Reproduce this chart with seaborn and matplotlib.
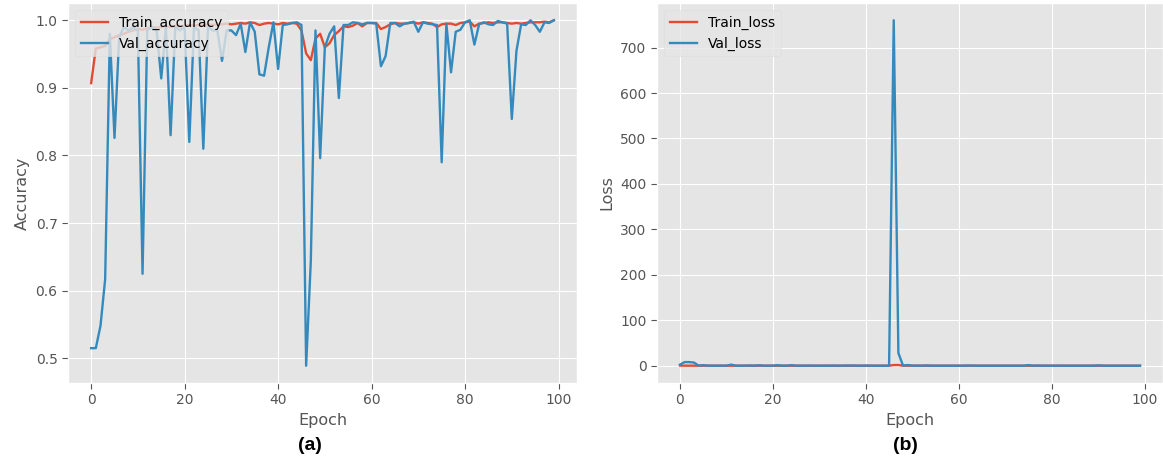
import numpy as np
import pandas as pd
import matplotlib
matplotlib.use("Agg")
import matplotlib.pyplot as plt
import seaborn as sns

plt.style.use("ggplot")

epochs = list(range(100))

train_acc = [0.907, 0.958, 0.960, 0.962, 0.972, 0.975, 0.978, 0.980, 0.983, 0.985,
             0.987, 0.986, 0.988, 0.990, 0.989, 0.990, 0.991, 0.990, 0.992, 0.991,
             0.992, 0.993, 0.992, 0.993, 0.992, 0.994, 0.993, 0.994, 0.994, 0.995,
             0.994, 0.995, 0.996, 0.995, 0.997, 0.996, 0.993, 0.995, 0.996, 0.995,
             0.994, 0.996, 0.995, 0.996, 0.995, 0.985, 0.951, 0.941, 0.973, 0.980,
             0.960, 0.966, 0.978, 0.984, 0.991, 0.990, 0.992, 0.996, 0.991, 0.996,
             0.996, 0.996, 0.987, 0.990, 0.994, 0.996, 0.995, 0.995, 0.996, 0.997,
             0.995, 0.997, 0.996, 0.995, 0.990, 0.994, 0.995, 0.995, 0.993, 0.996,
             0.997, 0.998, 0.991, 0.995, 0.996, 0.997, 0.996, 0.997, 0.997, 0.996,
             0.995, 0.996, 0.995, 0.996, 0.997, 0.997, 0.997, 0.998, 0.997, 1.000]

val_acc = [0.515, 0.515, 0.548, 0.617, 0.980, 0.826, 0.975, 0.990, 0.985, 0.990,
           0.985, 0.625, 0.985, 0.990, 0.985, 0.914, 0.990, 0.830, 0.990, 0.985,
           0.990, 0.820, 0.990, 0.985, 0.810, 0.990, 0.985, 0.985, 0.940, 0.985,
           0.985, 0.978, 0.995, 0.953, 0.997, 0.983, 0.920, 0.918, 0.960, 0.997,
           0.928, 0.993, 0.994, 0.996, 0.997, 0.993, 0.489, 0.644, 0.985, 0.796,
           0.960, 0.980, 0.991, 0.885, 0.993, 0.993, 0.997, 0.996, 0.994, 0.996,
           0.996, 0.995, 0.932, 0.947, 0.996, 0.996, 0.991, 0.995, 0.996, 0.998,
           0.983, 0.997, 0.995, 0.994, 0.993, 0.790, 0.995, 0.923, 0.983, 0.986,
           0.997, 1.000, 0.964, 0.994, 0.997, 0.994, 0.993, 0.999, 0.997, 0.995,
           0.854, 0.955, 0.994, 0.993, 1.000, 0.993, 0.983, 0.997, 0.996, 1.000]

train_loss = [0.30, 0.15, 0.13, 0.12, 0.10, 0.09, 0.08, 0.07, 0.06, 0.06,
              0.05, 0.05, 0.04, 0.04, 0.04, 0.04, 0.03, 0.04, 0.03, 0.03,
              0.03, 0.03, 0.03, 0.03, 0.03, 0.02, 0.03, 0.02, 0.02, 0.02,
              0.02, 0.02, 0.02, 0.02, 0.01, 0.02, 0.03, 0.02, 0.02, 0.02,
              0.02, 0.02, 0.02, 0.02, 0.02, 0.05, 1.50, 1.60, 0.10, 0.08,
              0.12, 0.10, 0.07, 0.05, 0.03, 0.03, 0.03, 0.02, 0.03, 0.02,
              0.02, 0.02, 0.04, 0.03, 0.02, 0.02, 0.02, 0.02, 0.02, 0.01,
              0.02, 0.01, 0.02, 0.02, 0.03, 0.02, 0.02, 0.02, 0.02, 0.01,
              0.01, 0.01, 0.03, 0.02, 0.01, 0.01, 0.01, 0.01, 0.01, 0.01,
              0.02, 0.01, 0.02, 0.01, 0.01, 0.01, 0.01, 0.01, 0.01, 0.01]

val_loss = [2.5, 8.0, 8.0, 7.0, 0.3, 1.2, 0.2, 0.1, 0.1, 0.1,
            0.1, 2.5, 0.1, 0.1, 0.1, 0.5, 0.1, 1.0, 0.1, 0.1,
            0.1, 1.2, 0.1, 0.1, 1.3, 0.1, 0.1, 0.1, 0.3, 0.1,
            0.1, 0.1, 0.05, 0.3, 0.05, 0.1, 0.4, 0.4, 0.2, 0.05,
            0.4, 0.05, 0.05, 0.05, 0.05, 0.05, 760.0, 28.0, 0.3, 1.5,
            0.2, 0.1, 0.05, 0.6, 0.05, 0.05, 0.05, 0.05, 0.05, 0.05,
            0.05, 0.05, 0.4, 0.3, 0.05, 0.05, 0.05, 0.05, 0.05, 0.03,
            0.1, 0.03, 0.05, 0.05, 0.05, 1.4, 0.05, 0.4, 0.1, 0.1,
            0.03, 0.02, 0.2, 0.05, 0.03, 0.05, 0.05, 0.02, 0.03, 0.05,
            0.8, 0.2, 0.05, 0.05, 0.02, 0.05, 0.1, 0.03, 0.03, 0.02]

acc_df = pd.DataFrame({"Epoch": epochs * 2,
                       "value": train_acc + val_acc,
                       "series": ["Train_accuracy"] * 100 + ["Val_accuracy"] * 100})
loss_df = pd.DataFrame({"Epoch": epochs * 2,
                        "value": train_loss + val_loss,
                        "series": ["Train_loss"] * 100 + ["Val_loss"] * 100})

fig = plt.figure(figsize=(11.63, 4.59), dpi=100)
W, H = 1163, 459
ax1 = fig.add_axes([68 / W, 1 - 383 / H, (577 - 68) / W, 380 / H])
ax2 = fig.add_axes([657 / W, 1 - 383 / H, (1163 - 657) / W, 380 / H])

colors = ["#E24A33", "#348ABD"]

sns.lineplot(data=acc_df, x="Epoch", y="value", hue="series", palette=colors,
             linewidth=1.7, ax=ax1)
ax1.set_ylabel("Accuracy", fontsize=11.5)
ax1.set_xticks([0, 20, 40, 60, 80, 100])
ax1.set_yticks([0.5, 0.6, 0.7, 0.8, 0.9, 1.0])

sns.lineplot(data=loss_df, x="Epoch", y="value", hue="series", palette=colors,
             linewidth=1.7, ax=ax2)
ax2.set_ylabel("Loss", fontsize=11.5)
ax2.set_xticks([0, 20, 40, 60, 80, 100])
ax2.set_yticks([0, 100, 200, 300, 400, 500, 600, 700])

for ax in (ax1, ax2):
    ax.set_xlabel("Epoch", fontsize=11.5)
    ax.tick_params(labelsize=10, colors="#555555", labelcolor="#555555",
                   direction="out", length=4, width=0.8)
    leg = ax.legend(loc="upper left", fontsize=10, framealpha=0.8)
    leg.get_frame().set_facecolor("#E5E5E5")
    leg.get_frame().set_edgecolor("#DDDDDD")

fig.text(310 / W, 1 - 445 / H, "(a)", ha="center", va="center",
         fontsize=14, fontweight="bold", family="Liberation Sans")
fig.text(905 / W, 1 - 445 / H, "(b)", ha="center", va="center",
         fontsize=14, fontweight="bold", family="Liberation Sans")

fig.savefig("out.png", dpi=100)
